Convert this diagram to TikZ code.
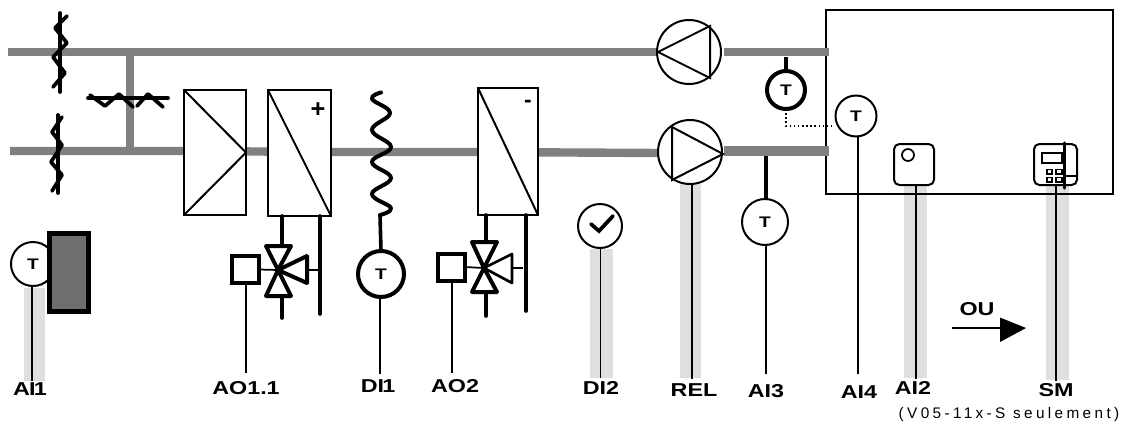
\documentclass[tikz,border=0pt]{standalone}
\usepackage{fontspec}
\setmainfont{Liberation Sans}
\newfontfamily\lblfont[FakeStretch=1.25]{Liberation Sans Bold}
\newfontfamily\notefont[LetterSpace=22]{Liberation Sans}
\def\px{0.75pt}
\tikzset{
  x=0.75pt,y=-0.75pt,
  duct/.style={draw=ductgray,line width=6.3pt},
  shade/.style={fill=shadegray,draw=none},
  sig/.style={draw=black,line width=1.3pt},
  pipe/.style={draw=black,line width=2.7pt,line cap=round},
  wing/.style={draw=black,line width=2.8pt,line cap=round,line join=round},
  thin box/.style={draw=black,fill=white,line width=1.6pt,inner sep=0pt,outer sep=0pt},
  sens/.style={circle,draw=black,fill=white,line width=1.5pt,inner sep=0pt,outer sep=0pt,minimum size=#1*\px,font=\lblfont\fontsize{11.5pt}{12pt}\selectfont},
  sensb/.style={sens=#1,line width=3pt},
  tag/.style={font=\lblfont\fontsize{14pt}{15pt}\selectfont,inner sep=0pt},
  act/.style={draw=black,fill=white,inner sep=0pt,outer sep=0pt,minimum size=27*\px},
  tri/.style={draw=black,fill=white,line width=3pt,line join=round},
  device/.style={draw=black,fill=white,line width=1.5pt,rounded corners=4pt,inner sep=0pt,outer sep=0pt,minimum width=#1*\px,minimum height=41*\px},
}
\definecolor{ductgray}{RGB}{128,128,128}
\definecolor{shadegray}{RGB}{223,223,223}
\definecolor{heatgray}{RGB}{110,110,110}
\begin{document}
\begin{tikzpicture}
\useasboundingbox (0,0) rectangle (1124,425);
% shading behind signal lines
\fill[shade] (24,288) rectangle (45,381);
\fill[shade] (590,249) rectangle (613,378);
\fill[shade] (680,184) rectangle (701,378);
\fill[shade] (904,186) rectangle (927,378);
\fill[shade] (1046,186) rectangle (1069,380);
% room
\node[draw=black,line width=1.5pt,minimum width=287*\px,minimum height=184*\px,inner sep=0pt,outer sep=0pt] (room) at (969.5,102) {};
% ducts
\coordinate (dT0) at (8,52); \coordinate (dT1) at (660,52);
\coordinate (dB0) at (10,151); \coordinate (dB1) at (660,153);
\coordinate (dTa) at (724,52); \coordinate (dTb) at (829,52);
\coordinate (dBa) at (724,151); \coordinate (dBb) at (829,151);
\coordinate (jT) at (130,52); \coordinate (jB) at (130,151);
\draw[duct] (dT0) -- (dT1);
\draw[duct] (dB0) -- (184,151) -- (331,152) -- (478,152) -- (dB1);
\draw[duct] (jT) -- (jB);
\draw[duct] (dTa) -- (dTb);
\draw[duct,line width=7.5pt] (dBa) -- (dBb);
% dampers
\draw[wing] (60,13) -- (60,92);
\draw[wing] (67,16) -- (55,28) -- (67,43) -- (53,57) -- (65,73) -- (53,87);
\draw[wing] (58,115) -- (58,193);
\draw[wing] (62,117) -- (52,132) -- (62,145) -- (51,162) -- (62,175) -- (52,191);
\draw[wing] (88,98) -- (168,98);
\draw[wing] (90,95) -- (105,106) -- (119,94) -- (133,107);
\draw[wing] (137,106) -- (148,94) -- (163,107);
% coils
\node[thin box,minimum width=62*\px,minimum height=125*\px] (hx) at (215,152.5) {};
\draw[line width=1.5pt,line join=bevel] (hx.north west) -- (hx.east) -- (hx.south west);
\node[thin box,minimum width=63*\px,minimum height=126*\px] (heat) at (299.5,153) {};
\draw[line width=1.5pt] (heat.north west) -- (heat.south east);
\node[font=\fontsize{19pt}{20pt}\bfseries\selectfont,inner sep=0pt] (plus) at (318,110) {+};
\node[thin box,minimum width=60*\px,minimum height=127*\px] (cool) at (508,151.5) {};
\draw[line width=1.5pt] (cool.north west) -- (cool.south east);
\node[font=\fontsize{17pt}{18pt}\bfseries\selectfont,inner sep=0pt] (minus) at (528,103.5) {-};
% heater valve
\coordinate (v1) at (278,270);
\coordinate (p1t) at (282,216); \coordinate (p1m) at (282,246); \coordinate (p1b) at (282,318);
\coordinate (r1t) at (320,216); \coordinate (r1b) at (320,314); \coordinate (r1m) at (320,270);
\draw[pipe] (p1t) -- (p1m); \draw[pipe] (282,296) -- (p1b); \draw[pipe] (r1t) -- (r1b);
\draw[sig] (307,270) -- (r1m);
\draw[tri] (266,246) -- (291,246) -- (v1) -- cycle;
\draw[tri] (266,296) -- (291,296) -- (v1) -- cycle;
\draw[tri] (307,256) -- (307,283) -- (v1) -- cycle;
\node[act,line width=3.5pt] (a1) at (245.5,269.5) {};
\draw[sig] (a1.east) -- (v1);
% cooler valve
\coordinate (v2) at (484,268);
\coordinate (p2t) at (486,215); \coordinate (p2m) at (486,242); \coordinate (p2b) at (486,316);
\coordinate (r2t) at (526,215); \coordinate (r2b) at (526,311); \coordinate (r2m) at (523,268);
\draw[pipe] (p2t) -- (p2m); \draw[pipe] (486,292) -- (p2b); \draw[pipe] (r2t) -- (r2b);
\draw[sig] (512,268) -- (r2m);
\draw[tri] (472,242) -- (497,242) -- (v2) -- cycle;
\draw[tri] (472,292) -- (497,292) -- (v2) -- cycle;
\draw[tri,line width=2pt] (512,254) -- (512,283) -- (v2) -- cycle;
\node[act,line width=3pt] (a2) at (451,267) {};
\draw[sig] (a2.east) -- (v2);
% outside sensor and heater box
\node[sens=44] (tAI1) at (33,264) {T};
\node[draw=black,fill=heatgray,line width=3.8pt,minimum width=39*\px,minimum height=78*\px,inner sep=0pt] (hbox) at (69,272.5) {};
% frost stat
\draw[wing,line width=3pt] plot[smooth,tension=0.7] coordinates {(381,92.5) (372,99) (390,113) (372,130) (391,147) (372,162) (391,178) (372,194) (391,208) (380,215)};
\node[sensb=46] (tDI1) at (381,274) {T};
\coordinate (sq) at (380,215);
\draw[pipe] (sq) -- (tDI1.north);
% DI2
\node[sens=44] (cDI2) at (600,226) {};
\draw[line width=2.8pt,line cap=round,line join=miter] (591,224) -- (599,231) -- (613,216);
% pumps
\node[sens=64] (pT) at (689,52) {};
\draw[line width=1.5pt,line join=miter] (658,52) -- (710,26) -- (710,78) -- cycle;
\node[sens=64] (pB) at (690,152) {};
\draw[line width=1.5pt,line join=miter] (672,127) -- (672,180) -- (723,154) -- cycle;
% room sensors
\node[sensb=38] (tD) at (786,90) {T};
\coordinate (tDtop) at (786,57);
\draw[pipe,line cap=butt] (tDtop) -- (tD.north);
\coordinate (dA) at (786,126); \coordinate (dB) at (834,126);
\draw[dotted,line width=1.1pt] (tD.south) -- (dA) -- (dB);
\node[sens=41] (tAI4) at (856,116) {T};
\node[sens=46] (tAI3) at (765,222) {T};
\coordinate (tAI3top) at (766,156);
\draw[pipe,line cap=butt,line width=3pt] (tAI3top) -- (tAI3.north -| tAI3top);
% room devices
\node[device=40] (dAI2) at (914,164.5) {};
\node[circle,draw=black,line width=1.3pt,fill=white,inner sep=0pt,minimum size=12*\px] (dAI2led) at (908,155) {};
\node[device=43] (dSM) at (1055.5,164.5) {};
\node[draw=black,line width=1.2pt,inner sep=0pt,minimum width=20*\px,minimum height=10*\px] (scr) at (1052,158) {};
\foreach \bx/\by/\bw in {1047/172/5,1056/172/6,1047/180/5,1056/180/6}
  \draw[line width=0.9pt] (\bx,\by-2.5) rectangle (\bx+\bw,\by+2);
\coordinate (hs0) at (1064.5,143); \coordinate (hs1) at (1064.5,188);
\draw[line width=2.5pt,line cap=round] (hs0) -- (hs1);
\coordinate (hs2) at (1077,176); \coordinate (hs3) at (1065,176);
\draw[line width=1pt] (hs3) -- (hs2);
% labels
\node[tag] (lAI1) at (30,389) {A\kern-0.6pt I\kern-1.4pt 1};
\node[tag] (lAO11) at (246,388) {AO1.1};
\node[tag] (lDI1) at (378,386) {DI\kern-1.4pt 1};
\node[tag] (lAO2) at (455,386) {AO2};
\node[tag] (lDI2) at (601,388) {DI2};
\node[tag] (lREL) at (694,390) {REL};
\node[tag] (lAI3) at (766,391) {AI3};
\node[tag] (lAI4) at (859,392) {AI4};
\node[tag] (lAI2) at (913,388) {AI2};
\node[tag] (lSM) at (1056,390) {SM};
\node[tag] (lOU) at (977,309) {OU};
\node[font=\notefont\fontsize{11.5pt}{12pt}\selectfont,inner sep=0pt] (note) at (1009,415) {(V05-11x-S seulement)};
% signal lines
\coordinate (eAI1) at (32,381);
\coordinate (eAO1) at (246,373);
\coordinate (eDI1) at (380,374);
\coordinate (eAO2) at (452,373);
\coordinate (eDI2) at (600.5,378);
\coordinate (eREL) at (692,379);
\coordinate (eAI3) at (766,374);
\coordinate (eAI4) at (858,374);
\coordinate (eAI2) at (916,379);
\coordinate (eSM) at (1056,381);
\draw[sig] (tAI1.south -| eAI1) -- (eAI1);
\draw[sig] (a1.south -| eAO1) -- (eAO1);
\draw[sig] (tDI1.south -| eDI1) -- (eDI1);
\draw[sig] (a2.south -| eAO2) -- (eAO2);
\draw[sig] (cDI2.south -| eDI2) -- (eDI2);
\draw[sig] (pB.south -| eREL) -- (eREL);
\draw[sig] (tAI3.south -| eAI3) -- (eAI3);
\draw[sig] (tAI4.south -| eAI4) -- (eAI4);
\draw[sig] (dAI2.south -| eAI2) -- (eAI2);
\draw[sig] (dSM.south -| eSM) -- (eSM);
% OU arrow
\coordinate (ou0) at (952,328); \coordinate (ou1) at (1000,328); \coordinate (ou2) at (1026,328);
\draw[line width=1.3pt] (ou0) -- (ou1);
\fill (1000,317.5) -- (ou2) -- (1000,342) -- cycle;
\end{tikzpicture}
\end{document}
